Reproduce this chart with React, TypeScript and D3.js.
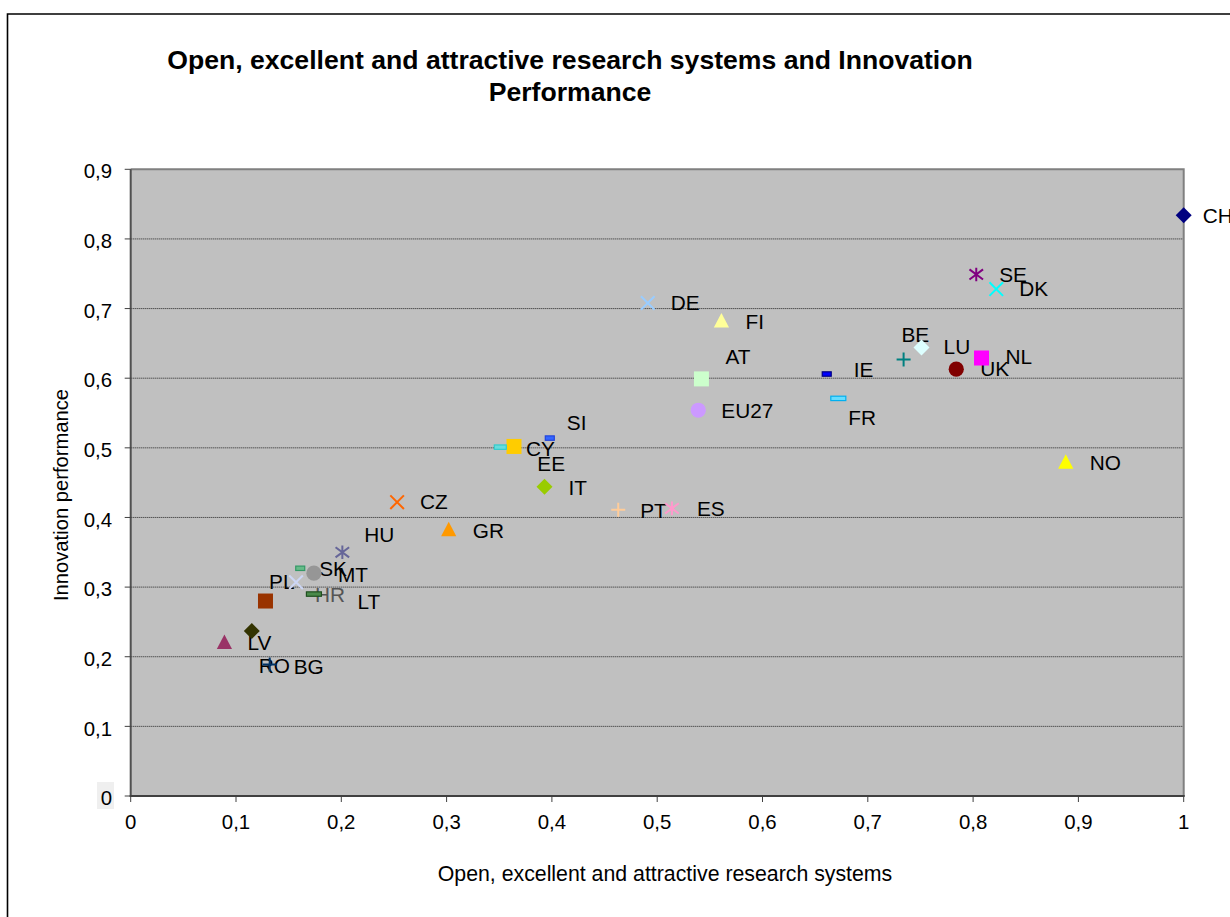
import React from "react";
import * as d3 from "d3";

// ---- data ----
const countries = ["CH","SE","DK","DE","FI","BE","LU","UK","NL","IE","FR","AT","EU27","SI","CY","EE","IT","PT","ES","NO","CZ","GR","HU","SK","MT","PL","HR","LT","LV","RO","BG"];
const researchSystems = [1.000,0.803,0.822,0.491,0.561,0.751,0.734,0.784,0.808,0.661,0.672,0.542,0.539,0.398,0.364,0.351,0.393,0.463,0.514,0.888,0.253,0.302,0.201,0.161,0.174,0.157,0.174,0.128,0.089,0.115,0.132];
const innovationPerformance = [0.834,0.749,0.728,0.708,0.683,0.644,0.627,0.613,0.629,0.606,0.571,0.599,0.554,0.514,0.502,0.501,0.444,0.411,0.413,0.480,0.422,0.383,0.350,0.327,0.320,0.307,0.290,0.280,0.221,0.237,0.189];
const xTicks = [0,0.1,0.2,0.3,0.4,0.5,0.6,0.7,0.8,0.9,1];
const xTickLabels = ["0","0,1","0,2","0,3","0,4","0,5","0,6","0,7","0,8","0,9","1"];
const yTicks = [0,0.1,0.2,0.3,0.4,0.5,0.6,0.7,0.8,0.9];
const yTickLabels = ["0","0,1","0,2","0,3","0,4","0,5","0,6","0,7","0,8","0,9"];
const titleLines = ["Open, excellent and attractive research systems and Innovation","Performance"];
const xTitle = "Open, excellent and attractive research systems";
const yTitle = "Innovation performance";

// ---- styles ----
type Shape = "diamond"|"square"|"circle"|"triangle"|"x"|"asterisk"|"plus"|"dash";
const markerStyle: Record<string, {shape: Shape; color: string; stroke?: string; w?: number}> = {
  CH:{shape:"diamond",color:"#000080"},
  SE:{shape:"asterisk",color:"#800080"},
  DK:{shape:"x",color:"#00FFFF"},
  DE:{shape:"x",color:"#99CCFF"},
  FI:{shape:"triangle",color:"#FFFF99"},
  BE:{shape:"diamond",color:"#DDFFFF"},
  LU:{shape:"plus",color:"#008080"},
  UK:{shape:"circle",color:"#800000"},
  NL:{shape:"square",color:"#FF00FF"},
  IE:{shape:"dash",color:"#0000FF",stroke:"#000080",w:9},
  FR:{shape:"dash",color:"#66DDFF",stroke:"#00B0F0",w:15},
  AT:{shape:"square",color:"#CCFFCC"},
  EU27:{shape:"circle",color:"#CC99FF"},
  SI:{shape:"dash",color:"#3366FF",stroke:"#2244DD",w:9},
  CY:{shape:"square",color:"#FFCC00"},
  EE:{shape:"dash",color:"#66DDDD",stroke:"#33CCCC",w:12},
  IT:{shape:"diamond",color:"#99CC00"},
  PT:{shape:"plus",color:"#FFCC99"},
  ES:{shape:"asterisk",color:"#FF99CC"},
  NO:{shape:"triangle",color:"#FFFF00"},
  CZ:{shape:"x",color:"#FF6600"},
  GR:{shape:"triangle",color:"#FF9900"},
  HU:{shape:"asterisk",color:"#666699"},
  SK:{shape:"dash",color:"#66BB88",stroke:"#339966",w:9},
  MT:{shape:"circle",color:"#969696"},
  PL:{shape:"x",color:"#CCD6F5"},
  HR:{shape:"dash",color:"#4A8A4A",stroke:"#1F4F1F",w:15},
  LT:{shape:"square",color:"#993300"},
  LV:{shape:"triangle",color:"#993366"},
  RO:{shape:"diamond",color:"#333300"},
  BG:{shape:"plus",color:"#003366"},
};
const labelOffset: Record<string, [number, number]> = {
  CH:[19,0], SE:[23,0], DK:[23,0], DE:[23,0], FI:[24,1], BE:[-20,-13], LU:[40,-13],
  UK:[24,0], NL:[24,-1], IE:[27,-4], FR:[10,19], AT:[24,-22], EU27:[23,0], SI:[17,-15],
  CY:[12,2], EE:[37,17], IT:[24,1], PT:[22,1], ES:[25,0], NO:[24,1], CZ:[23,0], GR:[24,1],
  HU:[22,-18], SK:[19,0], MT:[24,2], PL:[-27,-1], HR:[1,1], LT:[92,1], LV:[23,1], RO:[7,35], BG:[24,2],
};
const labelColor: Record<string, string> = { HR: "#555555" };

const W = 1230, H = 917;
const plot = { left: 130.7, right: 1183.7, top: 169.3, bottom: 796 };
const FONT = "'Liberation Sans', Arial, Helvetica, sans-serif";

function Marker({ cx, cy, s }: { cx: number; cy: number; s: { shape: Shape; color: string; stroke?: string; w?: number } }) {
  const c = s.color;
  switch (s.shape) {
    case "diamond": {
      const r = 8;
      return <path d={`M${cx},${cy - r}L${cx + r},${cy}L${cx},${cy + r}L${cx - r},${cy}Z`} fill={c} />;
    }
    case "square":
      return <rect x={cx - 7.5} y={cy - 7.5} width={15} height={15} fill={c} />;
    case "circle":
      return <circle cx={cx} cy={cy} r={7.6} fill={c} />;
    case "triangle":
      return <path d={`M${cx},${cy - 7.5}L${cx + 7.6},${cy + 7}L${cx - 7.6},${cy + 7}Z`} fill={c} />;
    case "x": {
      const r = 6.8;
      return <path d={`M${cx - r},${cy - r}L${cx + r},${cy + r}M${cx - r},${cy + r}L${cx + r},${cy - r}`} stroke={c} strokeWidth={2} fill="none" />;
    }
    case "asterisk": {
      const r = 6.8;
      return <path d={`M${cx - r},${cy - r * 0.75}L${cx + r},${cy + r * 0.75}M${cx - r},${cy + r * 0.75}L${cx + r},${cy - r * 0.75}M${cx},${cy - r}L${cx},${cy + r}`} stroke={c} strokeWidth={2} fill="none" />;
    }
    case "plus": {
      const r = 7;
      return <path d={`M${cx - r},${cy}L${cx + r},${cy}M${cx},${cy - r}L${cx},${cy + r}`} stroke={c} strokeWidth={2} fill="none" />;
    }
    case "dash": {
      const w = s.w ?? 10;
      return <rect x={cx - w / 2} y={cy - 2.2} width={w} height={4.4} fill={c} stroke={s.stroke ?? c} strokeWidth={1.2} />;
    }
  }
  return null;
}

export default function App() {
  const x = d3.scaleLinear().domain([0, 1]).range([plot.left, plot.right]);
  const y = d3.scaleLinear().domain([0, 0.9]).range([plot.bottom, plot.top]);
  const pts = countries.map((c, i) => ({ c, px: x(researchSystems[i]), py: y(innovationPerformance[i]) }));

  return (
    <svg width={W} height={H} style={{ position: "absolute", left: 0, top: 0, display: "block" }} fontFamily={FONT}>
      <rect x={0} y={0} width={W} height={H} fill="#ffffff" />
      {/* outer chart frame */}
      <path d={`M7.5,${H + 5}L7.5,14L${W + 5},14`} fill="none" stroke="#000" strokeWidth={1.6} />

      {/* title */}
      {titleLines.map((t, i) => (
        <text key={i} x={570} y={60 + i * 32} dy="0.35em" textAnchor="middle" fontSize={26.6} fontWeight="bold" fill="#000">{t}</text>
      ))}

      {/* plot area */}
      <rect x={plot.left} y={plot.top} width={plot.right - plot.left} height={plot.bottom - plot.top} fill="#C0C0C0" />
      {yTicks.filter((t) => t > 0 && t < 0.9).map((t) => (
        <line key={t} x1={plot.left} x2={plot.right} y1={y(t)} y2={y(t)} stroke="#222" strokeWidth={1} strokeDasharray="1 1" />
      ))}
      {/* top & right border */}
      <path d={`M${plot.left},${plot.top}L${plot.right},${plot.top}L${plot.right},${plot.bottom}`} fill="none" stroke="#808080" strokeWidth={2} />
      {/* axes */}
      <line x1={plot.left} x2={plot.left} y1={plot.top} y2={plot.bottom + 1} stroke="#505050" strokeWidth={2} />
      <line x1={plot.left - 1} x2={plot.right + 1} y1={plot.bottom} y2={plot.bottom} stroke="#404040" strokeWidth={2} />

      {/* y ticks */}
      {yTicks.map((t, i) => (
        <g key={t}>
          <line x1={plot.left - 6} x2={plot.left} y1={y(t)} y2={y(t)} stroke="#404040" strokeWidth={1} />
          {t === 0 && <rect x={97} y={782} width={17} height={27} fill="#EFEFEF" />}
          <text x={112} y={y(t) + 2} dy="0.35em" textAnchor="end" fontSize={20.4} fill="#000">{yTickLabels[i]}</text>
        </g>
      ))}
      {/* x ticks */}
      {xTicks.map((t, i) => (
        <g key={t}>
          <line x1={x(t)} x2={x(t)} y1={plot.bottom} y2={plot.bottom + 6} stroke="#404040" strokeWidth={1} />
          <text x={x(t)} y={822} dy="0.35em" textAnchor="middle" fontSize={20.4} fill="#000">{xTickLabels[i]}</text>
        </g>
      ))}

      {/* axis titles */}
      <text x={665} y={874} dy="0.35em" textAnchor="middle" fontSize={21.3} fill="#000">{xTitle}</text>
      <text transform={`translate(61,495) rotate(-90)`} dy="0.35em" textAnchor="middle" fontSize={20.2} fill="#000">{yTitle}</text>

      {/* labels */}
      {pts.map((p) => {
        const [dx, dy] = labelOffset[p.c] ?? [23, 0];
        return (
          <text key={"l" + p.c} x={p.px + dx} y={p.py + dy} dy="0.35em" fontSize={20.8} fill={labelColor[p.c] ?? "#000"}>{p.c}</text>
        );
      })}
      {/* markers */}
      {pts.map((p) => (
        <Marker key={"m" + p.c} cx={p.px} cy={p.py} s={markerStyle[p.c]} />
      ))}
    </svg>
  );
}
